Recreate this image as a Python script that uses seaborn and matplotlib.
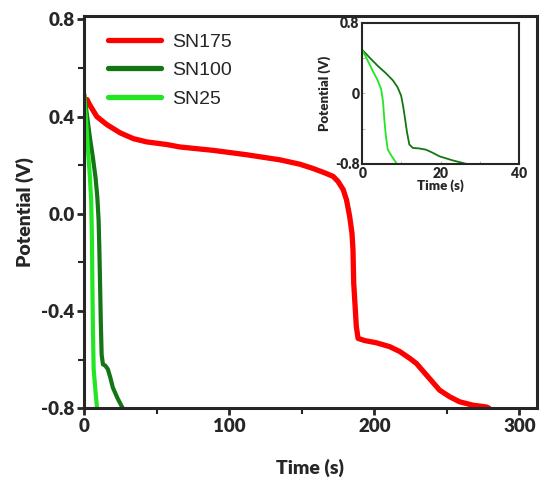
import matplotlib
matplotlib.use("Agg")
import matplotlib.pyplot as plt
import seaborn as sns
import numpy as np
import pandas as pd
from matplotlib.ticker import MultipleLocator

sns.set_style("ticks")
plt.rcParams['font.family'] = ['Lato', 'DejaVu Sans']

# ---- data ----
sn175_t = [2, 3.6, 8.7, 15.6, 24.8, 34, 43, 57, 66, 89, 112, 135, 148.7, 158, 166, 171.6, 175, 178.5, 180.8, 183, 184.6, 185.3, 185.8, 186.5, 187.6, 188.8, 193.4, 201.4, 210.6, 217.5, 224.4, 229, 237, 245, 251.9, 258.8, 268, 277, 279]
sn175_v = [0.47, 0.45, 0.40, 0.367, 0.333, 0.309, 0.296, 0.285, 0.275, 0.261, 0.243, 0.222, 0.204, 0.186, 0.168, 0.154, 0.133, 0.10, 0.058, -0.011, -0.08, -0.148, -0.286, -0.355, -0.465, -0.513, -0.522, -0.531, -0.547, -0.567, -0.595, -0.616, -0.671, -0.726, -0.753, -0.774, -0.788, -0.795, -0.80]
sn100_t = [0, 2.0, 4.0, 6.0, 7.8, 9.0, 9.9, 10.4, 10.8, 11.4, 12.0, 12.9, 14.5, 16.3, 18.0, 19.7, 23.0, 26.5]
sn100_v = [0.493, 0.40, 0.31, 0.23, 0.148, 0.07, -0.025, -0.14, -0.255, -0.44, -0.58, -0.62, -0.625, -0.64, -0.675, -0.715, -0.76, -0.80]
sn25_t = [0, 1.3, 2.6, 3.8, 4.8, 5.3, 5.6, 6.0, 6.5, 7.6, 8.8]
sn25_v = [0.49, 0.38, 0.26, 0.16, 0.05, -0.10, -0.29, -0.48, -0.64, -0.72, -0.80]
labels = ["SN175", "SN100", "SN25"]
colors = ["#FF0000", "#137513", "#22E622"]

series = [(sn175_t, sn175_v), (sn100_t, sn100_v), (sn25_t, sn25_v)]

fig = plt.figure(figsize=(5.4, 4.79), dpi=100)
ax = fig.add_axes([0.156, 0.148, 0.838, 0.819])

main_lw = [3.8, 3.0, 3.0]
for (t, v), lab, c, lw in zip(series, labels, colors, main_lw):
    df = pd.DataFrame({"Time": t, "V": v})
    sns.lineplot(data=df, x="Time", y="V", ax=ax, color=c, lw=lw, sort=False,
                 label=lab, estimator=None, solid_joinstyle='round',
                 solid_capstyle='round')

ax.set_xlim(0, 312)
ax.set_ylim(-0.8, 0.815)
ax.set_xticks([0, 100, 200, 300])
ax.set_yticks([-0.8, -0.4, 0.0, 0.4, 0.8])
ax.set_yticklabels(["-0.8", "-0.4", "0.0", "0.4", "0.8"])
ax.xaxis.set_minor_locator(MultipleLocator(50))
ax.yaxis.set_minor_locator(MultipleLocator(0.2))
for s in ax.spines.values():
    s.set_linewidth(2.2)
    s.set_visible(True)
ax.tick_params(which='major', direction='out', length=5, width=2, labelsize=13.5, pad=2)
ax.tick_params(which='minor', direction='out', length=4, width=1.5)
for lbl in ax.get_xticklabels() + ax.get_yticklabels():
    lbl.set_fontweight('heavy')
ax.set_xlabel("Time (s)", fontsize=14, fontweight='heavy', labelpad=17)
ax.set_ylabel("Potential (V)", fontsize=14, fontweight='heavy', labelpad=5)

leg = ax.legend(loc='upper left', frameon=False, bbox_to_anchor=(0.014, 1.0),
                prop={'family': 'Liberation Sans', 'size': 14},
                handlelength=2.7, handletextpad=0.6, labelspacing=0.55)
for h in leg.get_lines():
    h.set_linewidth(3.8)

# ---- inset ----
ins = fig.add_axes([0.671, 0.658, 0.290, 0.294])
for (t, v), c in zip(series[1:], colors[1:]):
    df = pd.DataFrame({"Time": t, "V": v})
    sns.lineplot(data=df, x="Time", y="V", ax=ins, color=c, lw=1.3, sort=False,
                 estimator=None)
ins.set_xlim(0, 40)
ins.set_ylim(-0.8, 0.8)
ins.set_xticks([0, 20, 40])
ins.set_yticks([-0.8, 0, 0.8])
ins.set_yticklabels(["-0.8", "0", "0.8"])
ins.xaxis.set_minor_locator(MultipleLocator(10))
ins.yaxis.set_minor_locator(MultipleLocator(0.4))
for s in ins.spines.values():
    s.set_linewidth(1.5)
    s.set_visible(True)
ins.tick_params(which='both', direction='in', length=2, width=0.6, color='#aaaaaa',
                labelsize=10, pad=2)
for lbl in ins.get_xticklabels() + ins.get_yticklabels():
    lbl.set_fontweight('heavy')
ins.set_xlabel("Time (s)", fontsize=9.5, fontweight='heavy', labelpad=0)
ins.set_ylabel("Potential (V)", fontsize=9.5, fontweight='heavy', labelpad=3)

fig.savefig("out.png", dpi=100)
